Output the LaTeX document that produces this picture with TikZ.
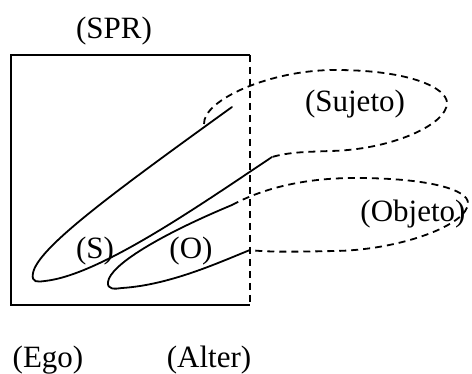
\documentclass[tikz,border=0pt]{standalone}
\usepackage{fontspec}
\setmainfont{Liberation Serif}
\tikzset{
  lbl/.style={anchor=base, inner sep=0pt, font=\fontsize{31}{33}\selectfont},
  solidline/.style={line width=1.8pt, line cap=round},
  dashline/.style={line width=1.8pt, dash pattern=on 7pt off 5pt}
}
\begin{document}
\begin{tikzpicture}[x=1pt, y=-1pt]
        \useasboundingbox (0,0) rectangle (472,374);

        % Frame
        \coordinate (tl) at (11,55);
        \coordinate (tr) at (250,55);
        \coordinate (bl) at (11,305);
        \coordinate (br) at (250,305);
        \draw[solidline, line cap=butt] (tr) -- (tl) -- (bl) -- (br);
        \draw[dashline] (tr) -- (br);

        % Labels
        \node (spr) [lbl] at (114,39) {(SPR)};
        \node (ego) [lbl] at (48,368) {(Ego)};
        \node (alter) [lbl] at (209,368) {(Alter)};
        \node (s) [lbl] at (95,259) {(S)};
        \node (o) [lbl] at (191,259) {(O)};
        \node (sujeto) [lbl] at (355,112) {(Sujeto)};
        \node (objeto) [lbl] at (413,222) {(Objeto)};

        % Loop ends
        \coordinate (sUp) at (232,107);
        \coordinate (sLow) at (272,157);
        \coordinate (oUp) at (232,205);
        \coordinate (oLow) at (250,250);

        % Subject loop
        \draw[solidline] (sUp) .. controls (110,195) and (38,248) .. (33,273)
            .. controls (31,283) and (38,282) .. (45,281)
            .. controls (100,275) and (200,205) .. (sLow);

        % Object loop
        \draw[solidline] (oUp) .. controls (160,235) and (110,265) .. (108,282)
            .. controls (107,290) and (115,289) .. (122,288)
            .. controls (170,285) and (220,262) .. (oLow);

        % Sujeto field
        \draw[dashline] (204,124) .. controls (203,100) and (270,70) .. (335,70)
            .. controls (410,70) and (447,88) .. (447,103)
            .. controls (447,125) and (390,150) .. (330,151)
            .. controls (305,152) and (290,152) .. (sLow);

        % Objeto field
        \draw[dashline] (oUp) .. controls (260,190) and (300,178) .. (355,178)
            .. controls (430,178) and (468,190) .. (468,203)
            .. controls (468,225) and (400,250) .. (335,251)
            .. controls (290,252) and (265,252) .. (oLow);
\end{tikzpicture}
\end{document}
